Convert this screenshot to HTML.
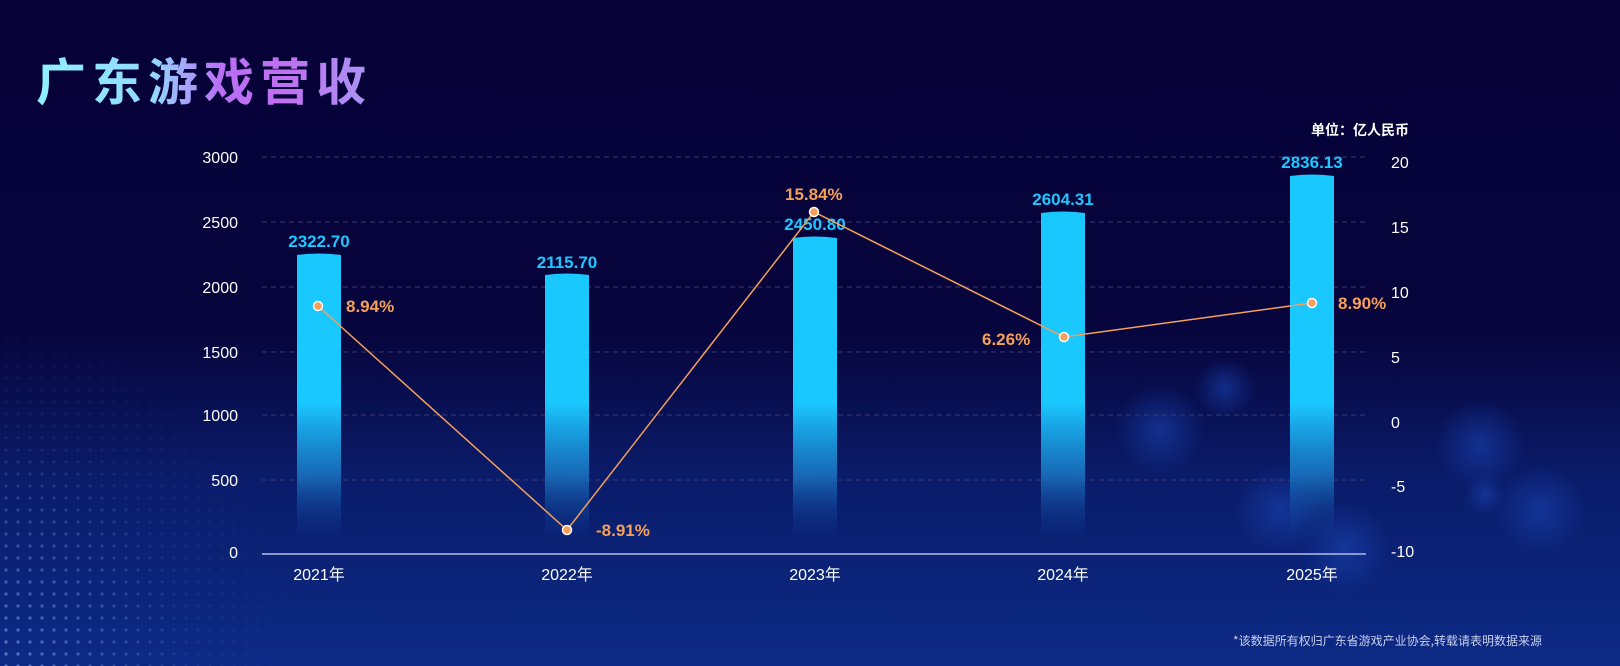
<!DOCTYPE html>
<html><head><meta charset="utf-8"><style>
html,body{margin:0;padding:0;}
body{width:1620px;height:666px;overflow:hidden;background:#07023a;font-family:"Liberation Sans","Noto Sans CJK SC",sans-serif;}
</style></head><body>
<svg width="1620" height="666" xmlns="http://www.w3.org/2000/svg" style="display:block">
<defs>
<linearGradient id="bg" x1="0" y1="0" x2="0" y2="1">
<stop offset="0" stop-color="#060137"/><stop offset="0.5" stop-color="#07053d"/><stop offset="0.72" stop-color="#0a1c6a"/><stop offset="1" stop-color="#0c2a85"/></linearGradient>
<linearGradient id="bar" gradientUnits="userSpaceOnUse" x1="0" y1="150" x2="0" y2="545">
<stop offset="0" stop-color="#19c8ff"/><stop offset="0.64" stop-color="#19c8ff"/><stop offset="0.82" stop-color="#1a7fcc" stop-opacity="0.8"/><stop offset="1" stop-color="#0c2a85" stop-opacity="0"/></linearGradient>
<linearGradient id="tt" x1="0" y1="0" x2="1" y2="0">
<stop offset="0" stop-color="#8ff0ff"/><stop offset="0.35" stop-color="#92d8ff"/><stop offset="0.55" stop-color="#b96ef5"/><stop offset="0.75" stop-color="#c070f0"/><stop offset="1" stop-color="#a996f5"/></linearGradient>
<radialGradient id="bk"><stop offset="0" stop-color="#1b46b8" stop-opacity="0.55"/><stop offset="1" stop-color="#1b46b8" stop-opacity="0"/></radialGradient>
<pattern id="dots" width="12" height="12" patternUnits="userSpaceOnUse"><circle cx="6" cy="6" r="1.6" fill="#6f8fd8"/></pattern>
<radialGradient id="dm" cx="0" cy="1" r="1"><stop offset="0" stop-color="#fff" stop-opacity="0.8"/><stop offset="0.6" stop-color="#fff" stop-opacity="0.15"/><stop offset="1" stop-color="#fff" stop-opacity="0"/></radialGradient>
<mask id="m"><rect x="0" y="300" width="300" height="366" fill="url(#dm)"/></mask>
</defs>
<rect width="1620" height="666" fill="url(#bg)"/>
<rect x="0" y="300" width="300" height="366" fill="url(#dots)" mask="url(#m)"/>
<circle cx="1160" cy="430" r="45" fill="url(#bk)"/>
<circle cx="1280" cy="510" r="45" fill="url(#bk)"/>
<circle cx="1480" cy="445" r="45" fill="url(#bk)"/>
<circle cx="1485" cy="495" r="20" fill="url(#bk)"/>
<circle cx="1345" cy="548" r="45" fill="url(#bk)"/>
<circle cx="1540" cy="510" r="45" fill="url(#bk)"/>
<circle cx="1225" cy="388" r="30" fill="url(#bk)"/>
<text x="36" y="100" font-size="50" font-weight="bold" letter-spacing="6" fill="url(#tt)" font-family="'Noto Sans CJK SC',sans-serif">广东游戏营收</text>
<text x="1409" y="135" font-size="14" font-weight="bold" fill="#fff" text-anchor="end" font-family="'Noto Sans CJK SC',sans-serif">单位：亿人民币</text>
<g stroke="#3a3a70" stroke-dasharray="5,4" stroke-width="1">
<line x1="262" y1="157" x2="1366" y2="157"/><line x1="262" y1="222" x2="1366" y2="222"/><line x1="262" y1="287" x2="1366" y2="287"/><line x1="262" y1="352" x2="1366" y2="352"/><line x1="262" y1="415" x2="1366" y2="415"/><line x1="262" y1="480" x2="1366" y2="480"/>
</g>
<g fill="#fff" font-size="16" text-anchor="end">
<text x="238" y="163">3000</text><text x="238" y="228">2500</text><text x="238" y="293">2000</text><text x="238" y="358">1500</text><text x="238" y="421">1000</text><text x="238" y="486">500</text><text x="238" y="558">0</text>
</g>
<g fill="#fff" font-size="16">
<text x="1391" y="168">20</text><text x="1391" y="233">15</text><text x="1391" y="298">10</text><text x="1391" y="363">5</text><text x="1391" y="428">0</text><text x="1391" y="492">-5</text><text x="1391" y="557">-10</text>
</g>
<g fill="url(#bar)">
<path d="M297 255 Q319 252 341 255 V555 H297Z"/>
<path d="M545 275 Q567 272 589 275 V555 H545Z"/>
<path d="M793 238 Q815 235 837 238 V555 H793Z"/>
<path d="M1041 213 Q1063 210 1085 213 V555 H1041Z"/>
<path d="M1290 176 Q1312 173 1334 176 V555 H1290Z"/>
</g>
<line x1="262" y1="554" x2="1366" y2="554" stroke="#8a9ad0" stroke-width="2"/>
<g fill="#fff" font-size="16" text-anchor="middle" font-family="'Liberation Sans','Noto Sans CJK SC',sans-serif">
<text x="319" y="580">2021年</text><text x="567" y="580">2022年</text><text x="815" y="580">2023年</text><text x="1063" y="580">2024年</text><text x="1312" y="580">2025年</text>
</g>
<g fill="#1ec8ff" font-size="17" font-weight="bold" text-anchor="middle">
<text x="319" y="247">2322.70</text><text x="567" y="268">2115.70</text><text x="815" y="230">2450.80</text><text x="1063" y="205">2604.31</text><text x="1312" y="168">2836.13</text>
</g>
<polyline points="318,306 567,530 814,212 1064,337 1312,303" fill="none" stroke="#f5a05a" stroke-width="1.5"/>
<g fill="#f5a05a" stroke="#fff" stroke-width="1.5">
<circle cx="318" cy="306" r="4.5"/><circle cx="567" cy="530" r="4.5"/><circle cx="814" cy="212" r="4.5"/><circle cx="1064" cy="337" r="4.5"/><circle cx="1312" cy="303" r="4.5"/>
</g>
<g fill="#f5a05a" font-size="17" font-weight="bold">
<text x="346" y="312">8.94%</text><text x="596" y="536">-8.91%</text><text x="785" y="200">15.84%</text><text x="982" y="345">6.26%</text><text x="1338" y="309">8.90%</text>
</g>
<text x="1542" y="645" font-size="12" fill="#c8d0ee" text-anchor="end" font-family="'Noto Sans CJK SC',sans-serif">*该数据所有权归广东省游戏产业协会,转载请表明数据来源</text>
</svg>
</body></html>
